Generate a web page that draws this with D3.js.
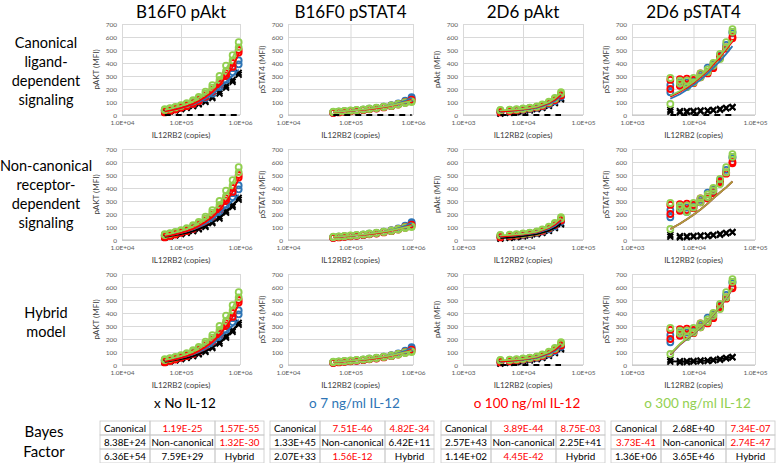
<!DOCTYPE html>
<html>
<head>
<meta charset="utf-8">
<script src="https://cdn.jsdelivr.net/npm/d3@7"></script>
<style>
  body { margin: 0; background: #fff; }
  text { font-family: Lato, "Open Sans", sans-serif; }
</style>
</head>
<body>
<svg id="chart" width="778" height="463"></svg>
<script>
// receptor copies per cell line
const xB16 = [5.3e4, 6.5e4, 8e4, 1e5, 1.25e5, 1.6e5, 2e5, 2.6e5, 3.4e5, 4.5e5, 5.8e5, 7.5e5, 9.5e5]
const x2D6 = [4.2e3, 6e3, 7.8e3, 1e4, 1.3e4, 1.7e4, 2.1e4, 2.7e4, 3.4e4, 4.3e4]

// measured MFI, two replicates per series
const b16Akt_none = [[28, 32, 40, 48, 58, 72, 88, 110, 140, 180, 225, 270, 325], [20, 28, 35, 45, 55, 68, 82, 100, 130, 165, 210, 255, 310]]
const b16Akt_7 = [[32, 38, 48, 58, 70, 85, 105, 130, 165, 215, 270, 330, 390], [38, 42, 55, 64, 78, 95, 115, 145, 185, 240, 300, 360, 420]]
const b16Akt_100 = [[30, 38, 48, 60, 75, 92, 118, 150, 195, 250, 320, 400, 480], [20, 30, 42, 55, 68, 85, 105, 140, 180, 235, 300, 370, 500]]
const b16Akt_300 = [[45, 52, 62, 75, 92, 115, 140, 180, 230, 300, 380, 460, 560], [38, 48, 58, 70, 85, 105, 130, 165, 210, 270, 340, 420, 520]]

// no IL-12 pSTAT4 in B16F0 is not shown as points (sits on the axis)
const b16Stat_none = []
const b16Stat_7 = [[22, 25, 28, 32, 36, 42, 48, 55, 64, 75, 90, 110, 138], [18, 22, 26, 30, 34, 39, 45, 52, 60, 70, 84, 102, 128]]
const b16Stat_100 = [[20, 23, 27, 31, 35, 40, 46, 53, 62, 72, 85, 100, 118], [16, 20, 25, 29, 33, 38, 44, 50, 58, 68, 80, 94, 110]]
const b16Stat_300 = [[26, 28, 31, 35, 39, 44, 50, 57, 65, 74, 86, 98, 105], [22, 26, 29, 33, 37, 42, 47, 54, 62, 70, 80, 92, 100]]

const d6Akt_none = [[15, 20, 25, 32, 40, 48, 58, 75, 98, 128], [10, 16, 22, 28, 35, 44, 54, 70, 92, 120]]
const d6Akt_7 = [[28, 33, 38, 43, 50, 58, 72, 88, 112, 150], [22, 30, 35, 40, 46, 55, 66, 82, 105, 140]]
const d6Akt_100 = [[30, 34, 40, 45, 52, 62, 76, 95, 120, 160], [20, 28, 35, 42, 50, 58, 70, 90, 115, 150]]
const d6Akt_300 = [[40, 42, 45, 50, 57, 67, 82, 102, 132, 175], [35, 38, 42, 47, 54, 63, 78, 97, 125, 165]]

const d6Stat_none = [[40, 30, 30, 32, 35, 35, 40, 48, 55, 62], [25, 20, 22, 25, 28, 30, 35, 40, 50, 58]]
const d6Stat_7 = [[175, 240, 215, 255, 310, 365, 370, 445, 515, 630], [230, 250, 250, 265, 295, 330, 390, 460, 540, 640]]
const d6Stat_100 = [[270, 275, 280, 270, 320, 330, 380, 450, 520, 600], [200, 225, 230, 245, 290, 320, 360, 440, 510, 590]]
const d6Stat_300 = [[285, 265, 265, 285, 320, 350, 400, 470, 560, 660], [85, 245, 215, 250, 290, 330, 380, 430, 520, 640]]

// model fits
const zeroB16 = [0, 0, 0, 0, 0, 0, 0, 0, 0, 0, 0, 0, 0]
const zero2D6 = [0, 0, 0, 0, 0, 0, 0, 0, 0, 0]

const b16AktFit_none = [25, 30, 37, 45, 55, 68, 84, 105, 133, 172, 215, 262, 318]
const b16AktFit_7 = [32, 38, 46, 55, 67, 82, 100, 125, 158, 205, 255, 300, 350]
const b16AktFit_100 = [28, 35, 44, 55, 69, 86, 108, 138, 178, 232, 295, 370, 470]
const b16AktFit_300 = [40, 48, 58, 70, 86, 106, 132, 168, 215, 280, 355, 440, 545]

const b16StatFit_7 = [22, 25, 28, 32, 36, 41, 47, 54, 63, 75, 90, 108, 132]
const b16StatFit_100 = [21, 24, 27, 31, 35, 40, 46, 52, 61, 71, 84, 99, 116]
const b16StatFit_300 = [24, 27, 30, 34, 38, 43, 49, 56, 64, 74, 85, 97, 108]

const d6AktFit_none = [14, 19, 24, 30, 37, 46, 56, 72, 95, 125]
const d6AktFit_7 = [25, 31, 36, 41, 48, 56, 69, 85, 108, 145]
const d6AktFit_100 = [26, 31, 37, 43, 51, 60, 73, 92, 117, 155]
const d6AktFit_300 = [36, 40, 43, 48, 55, 65, 80, 99, 128, 170]

const d6StatCan_7 = [125, 160, 195, 230, 270, 320, 365, 415, 470, 530]
const d6StatCan_100 = [140, 178, 212, 248, 292, 342, 390, 445, 505, 565]
const d6StatCan_300 = [148, 185, 220, 256, 300, 350, 400, 455, 515, 578]
const d6StatNon_all = [85, 125, 160, 195, 235, 280, 320, 365, 405, 450]
const d6StatHyb_none = [30, 25, 25, 28, 30, 33, 38, 45, 52, 60]
const d6StatHyb_7 = [80, 155, 200, 238, 288, 338, 388, 448, 512, 585]
const d6StatHyb_100 = [82, 158, 203, 240, 290, 340, 390, 450, 514, 588]
const d6StatHyb_300 = [85, 162, 206, 242, 292, 342, 392, 452, 516, 592]

// labels
const colTitles = ['B16F0 pAkt', 'B16F0 pSTAT4', '2D6 pAkt', '2D6 pSTAT4']
const yTitles = ['pAKT (MFI)', 'pSTAT4 (MFI)', 'pAkt (MFI)', 'pSTAT4 (MFI)']
const rowLabels = [['Canonical', 'ligand-', 'dependent', 'signaling'], ['Non-canonical', 'receptor-', 'dependent', 'signaling'], ['Hybrid', 'model']]
const legendLabels = ['x No IL-12', 'o 7 ng/ml IL-12', 'o 100 ng/ml IL-12', 'o 300 ng/ml IL-12']
const yTicks = [0, 100, 200, 300, 400, 500, 600, 700]
const xTicksB16 = [1e4, 1e5, 1e6]
const xTicks2D6 = [1e3, 1e4, 1e5]
const xTickLabelsB16 = ['1.0E+04', '1.0E+05', '1.0E+06']
const xTickLabels2D6 = ['1.0E+03', '1.0E+04', '1.0E+05']

// Bayes factor tables
const bfNone = [['Canonical', '1.19E-25', '1.57E-55'], ['8.38E+24', 'Non-canonical', '1.32E-30'], ['6.36E+54', '7.59E+29', 'Hybrid']]
const bf7 = [['Canonical', '7.51E-46', '4.82E-34'], ['1.33E+45', 'Non-canonical', '6.42E+11'], ['2.07E+33', '1.56E-12', 'Hybrid']]
const bf100 = [['Canonical', '3.89E-44', '8.75E-03'], ['2.57E+43', 'Non-canonical', '2.25E+41'], ['1.14E+02', '4.45E-42', 'Hybrid']]
const bf300 = [['Canonical', '2.68E+40', '7.34E-07'], ['3.73E-41', 'Non-canonical', '2.74E-47'], ['1.36E+06', '3.65E+46', 'Hybrid']]

const colors = {none: '#000000', c7: '#2e75b6', c100: '#ff0000', c300: '#92d050'}
const legendColors = ['#000000', '#2e75b6', '#ff0000', '#92d050']
const seriesColors = [colors.none, colors.c7, colors.c100, colors.c300]

const svg = d3.select('#chart')

const fitSet = (none, f7, f100, f300) => [
  none ? {v: none, c: colors.none} : null,
  {v: f7, c: colors.c7}, {v: f100, c: colors.c100}, {v: f300, c: colors.c300}
].filter(d => d)

// one column per cell line / readout
const columns = [
  {left: 122, right: 240, domain: [1e4, 1e6], x: xB16, ticks: xTicksB16, tickLabels: xTickLabelsB16,
   data: [b16Akt_none, b16Akt_7, b16Akt_100, b16Akt_300],
   zero: [true, false, false], zeroLine: zeroB16,
   fits: [fitSet(null, b16AktFit_7, b16AktFit_100, b16AktFit_300),
          fitSet(b16AktFit_none, b16AktFit_7, b16AktFit_100, b16AktFit_300),
          fitSet(b16AktFit_none, b16AktFit_7, b16AktFit_100, b16AktFit_300)]},
  {left: 288, right: 413, domain: [1e4, 1e6], x: xB16, ticks: xTicksB16, tickLabels: xTickLabelsB16,
   data: [b16Stat_none, b16Stat_7, b16Stat_100, b16Stat_300],
   zero: [true, false, false], zeroLine: zeroB16,
   fits: [fitSet(null, b16StatFit_7, b16StatFit_100, b16StatFit_300),
          fitSet(null, b16StatFit_7, b16StatFit_100, b16StatFit_300),
          fitSet(null, b16StatFit_7, b16StatFit_100, b16StatFit_300)]},
  {left: 463, right: 583, domain: [1e3, 1e5], x: x2D6, ticks: xTicks2D6, tickLabels: xTickLabels2D6,
   data: [d6Akt_none, d6Akt_7, d6Akt_100, d6Akt_300],
   zero: [true, false, true], zeroLine: zero2D6,
   fits: [fitSet(null, d6AktFit_7, d6AktFit_100, d6AktFit_300),
          fitSet(d6AktFit_none, d6AktFit_7, d6AktFit_100, d6AktFit_300),
          fitSet(null, d6AktFit_7, d6AktFit_100, d6AktFit_300)]},
  {left: 632, right: 755, domain: [1e3, 1e5], x: x2D6, ticks: xTicks2D6, tickLabels: xTickLabels2D6,
   data: [d6Stat_none, d6Stat_7, d6Stat_100, d6Stat_300],
   zero: [true, false, false], zeroLine: zero2D6,
   fits: [fitSet(null, d6StatCan_7, d6StatCan_100, d6StatCan_300),
          [{v: d6StatNon_all, c: colors.c7}, {v: d6StatNon_all, c: colors.c100}, {v: d6StatNon_all, c: colors.c300, op: 0.75}],
          fitSet(d6StatHyb_none, d6StatHyb_7, d6StatHyb_100, d6StatHyb_300)]}
]

columns.forEach((col, ci) => {
  const xScale = d3.scaleLog().domain(col.domain).range([col.left, col.right])
  const cx = (col.left + col.right) / 2

  // column title
  svg.append('text').attr('x', cx).attr('y', 18).attr('text-anchor', 'middle')
    .attr('font-size', 17).attr('fill', '#000').text(colTitles[ci])

  for (let r = 0; r < 3; r++) {
    const top = 24 + 125 * r
    const bottom = 115 + 125 * r
    const yScale = d3.scaleLinear().domain([0, 700]).range([bottom, top])
    const g = svg.append('g')

    // gridlines
    g.append('g').attr('transform', `translate(0,${bottom})`)
      .call(d3.axisBottom(xScale).tickValues(col.ticks).tickSize(-(bottom - top)).tickFormat(''))
      .call(s => s.select('.domain').remove())
      .call(s => s.selectAll('line').attr('stroke', '#d9d9d9'))
    g.append('g').attr('transform', `translate(${col.left},0)`)
      .call(d3.axisLeft(yScale).tickValues(yTicks).tickSize(-(col.right - col.left)).tickFormat(''))
      .call(s => s.select('.domain').remove())
      .call(s => s.selectAll('line').attr('stroke', '#d9d9d9'))
    g.append('line').attr('x1', col.left).attr('x2', col.right).attr('y1', bottom).attr('y2', bottom)
      .attr('stroke', '#bfbfbf')

    // tick labels
    g.append('g').attr('transform', `translate(0,${bottom})`)
      .call(d3.axisBottom(xScale).tickValues(col.ticks).tickSize(0).tickPadding(5)
        .tickFormat((d, i) => col.tickLabels[i]))
      .call(s => s.select('.domain').remove())
      .call(s => s.selectAll('text').attr('font-size', 6.5).attr('fill', '#595959').attr('font-family', 'Lato'))
    g.append('g').attr('transform', `translate(${col.left},0)`)
      .call(d3.axisLeft(yScale).tickValues(yTicks).tickSize(0).tickPadding(5))
      .call(s => s.select('.domain').remove())
      .call(s => s.selectAll('text').attr('font-size', 6.5).attr('fill', '#595959').attr('font-family', 'Lato'))

    // axis titles
    g.append('text').attr('x', cx).attr('y', bottom + 23).attr('text-anchor', 'middle')
      .attr('font-size', 8).attr('fill', '#404040').text('IL12RB2 (copies)')
    g.append('text').attr('transform', `translate(${col.left - 23},${(top + bottom) / 2}) rotate(-90)`)
      .attr('text-anchor', 'middle').attr('font-size', 8).attr('fill', '#404040').text(yTitles[ci])

    // data points
    col.data.forEach((reps, si) => {
      reps.forEach(rep => {
        const pts = rep.map((v, i) => [xScale(col.x[i]), yScale(v)])
        if (si === 0) {
          g.selectAll(null).data(pts).join('path')
            .attr('transform', d => `translate(${d[0]},${d[1]})`)
            .attr('d', d3.symbol(d3.symbolTimes, 24))
            .attr('fill', 'none').attr('stroke', seriesColors[si]).attr('stroke-width', 1.9)
        } else {
          g.selectAll(null).data(pts).join('circle')
            .attr('cx', d => d[0]).attr('cy', d => d[1]).attr('r', 3)
            .attr('fill', 'none').attr('stroke', seriesColors[si]).attr('stroke-width', 1.8)
        }
      })
    })

    // model lines
    const line = d3.line().x((d, i) => xScale(col.x[i])).y(d => yScale(d))
    if (col.zero[r]) {
      g.append('path').datum(col.zeroLine).attr('d', line)
        .attr('fill', 'none').attr('stroke', colors.none).attr('stroke-width', 2)
        .attr('stroke-dasharray', '6,5')
    }
    col.fits[r].forEach(f => {
      g.append('path').datum(f.v).attr('d', line)
        .attr('fill', 'none').attr('stroke', f.c).attr('stroke-width', 1.8)
        .attr('opacity', f.op || 1)
    })
  }

  // legend
  svg.append('text').attr('x', cx + 4).attr('y', 408).attr('text-anchor', 'middle')
    .attr('font-size', 13.5).attr('fill', legendColors[ci]).text(legendLabels[ci])
})

// row labels
rowLabels.forEach((lines, r) => {
  const starts = [43, 166, 313]
  lines.forEach((t, i) => {
    svg.append('text').attr('x', 46).attr('y', starts[r] + 19 * i + 5).attr('text-anchor', 'middle')
      .attr('font-size', 14.5).text(t)
  })
})
svg.append('text').attr('x', 44).attr('y', 437).attr('text-anchor', 'middle').attr('font-size', 15).text('Bayes')
svg.append('text').attr('x', 44).attr('y', 457).attr('text-anchor', 'middle').attr('font-size', 15).text('Factor')

// Bayes factor tables
const tables = [bfNone, bf7, bf100, bf300]
const tableLeft = [100, 270, 441, 611]
const cellW = [50, 65, 49]
const rowH = 14
const tableTop = 421
tables.forEach((tbl, ti) => {
  const g = svg.append('g')
  tbl.forEach((row, ri) => {
    let x = tableLeft[ti]
    row.forEach((cell, ci) => {
      const y = tableTop + ri * rowH
      g.append('rect').attr('x', x).attr('y', y).attr('width', cellW[ci]).attr('height', rowH)
        .attr('fill', 'none').attr('stroke', '#c8c8c8').attr('stroke-width', 0.8)
      const num = Number(cell)
      g.append('text').attr('x', x + cellW[ci] / 2).attr('y', y + rowH / 2 + 3.5)
        .attr('text-anchor', 'middle').attr('font-size', 9.8)
        .attr('fill', !isNaN(num) && num < 1 ? '#ff0000' : '#000').text(cell)
      x += cellW[ci]
    })
  })
})
</script>
</body>
</html>
